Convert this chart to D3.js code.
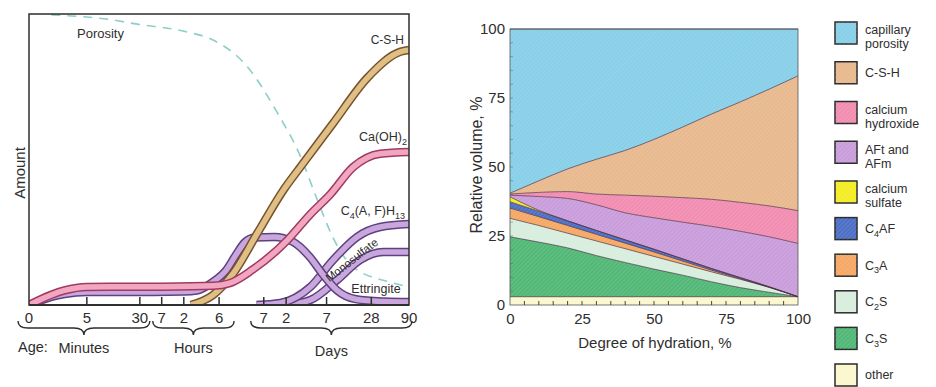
<!DOCTYPE html>
<html>
<head>
<meta charset="utf-8">
<script src="https://cdn.jsdelivr.net/npm/d3@7"></script>
<style>
body { margin: 0; background: #fff; }
svg { display: block; font-family: "Liberation Sans", Arial, sans-serif; }
</style>
</head>
<body>
<svg id="chart" width="936" height="387"></svg>
<script>
// ---------- left panel: amount of each product vs age (minutes) ----------
const ageTicks = [0, 5, 30, 60, 120, 360, 1440, 2880, 10080, 40320, 129600];
const ageTickLabels = ['0', '5', '30', '7', '2', '6', '7', '2', '7', '28', '90'];
const ageGroups = [
    {label: 'Minutes', from: 0, to: 30},
    {label: 'Hours', from: 60, to: 360},
    {label: 'Days', from: 1440, to: 129600}
];

// [age in minutes, amount]
const porosityCurve = [[1, 99.7], [12, 98], [26, 96.6], [135, 93.8], [303, 91], [870, 81.8], [2200, 66],
    [4500, 51], [7600, 36], [12400, 23], [23000, 13], [79000, 7.6], [129600, 6.2]];
const cshCurve = [[150, 0], [300, 3.5], [564, 11], [1200, 25], [2650, 39.5], [4475, 47.4], [12400, 62.5],
    [35500, 78], [98500, 87], [129600, 87.6]];
const chCurve = [[0, 0], [1, 3.5], [2, 5], [5, 6.2], [60, 6.3], [300, 6.6], [500, 7.5], [1000, 12],
    [3000, 22.3], [6000, 31], [11300, 38], [23000, 47.4], [53000, 52], [129600, 52.6]];
const ettringiteCurve = [[0, 0], [1, 2.8], [2, 3.8], [5, 4.5], [30, 4.5], [120, 4.6], [180, 5], [300, 8],
    [450, 12], [600, 17], [800, 21.5], [1100, 23.2], [2000, 23.4], [3500, 21.8], [6000, 16.5],
    [9000, 10.5], [14000, 5], [25000, 2], [60000, 1.2], [129600, 1]];
const afmUpperCurve = [[1150, 0], [2414, 0.7], [6100, 6.2], [12400, 15.5], [26000, 23.4], [53000, 26.8], [129600, 27.8]];
const afmLowerCurve = [[2815, 0], [6100, 1.7], [14000, 8.6], [28600, 15.5], [58200, 18.2], [129600, 18.2]];

// ---------- right panel: relative volume vs degree of hydration ----------
const hydration = [0, 10, 20, 30, 40, 50, 60, 70, 80, 90, 100];
const otherVol    = [3, 3, 3, 3, 3, 3, 3, 3, 3, 3, 3];
const c3sVol      = [21.7, 19.8, 17.7, 14.9, 12.4, 10, 7.8, 5.4, 3.3, 1.6, 0];
const c2sVol      = [6.7, 6.0, 5.3, 5.3, 5.0, 4.6, 4.0, 3.6, 3.0, 1.8, 0];
const c3aVol      = [3.7, 3.2, 2.8, 2.4, 2.0, 1.6, 1.1, 0.6, 0.2, 0, 0];
const c4afVol     = [2.3, 2.0, 1.7, 1.4, 1.2, 1.0, 0.8, 0.6, 0.4, 0.2, 0];
const sulfateVol  = [1.8, 0.3, 0, 0, 0, 0, 0, 0, 0, 0, 0];
const aftVol      = [0.6, 5.0, 8.1, 9.3, 9.8, 11.4, 13.3, 15.3, 16.8, 18.1, 19.3];
const chVol       = [0.4, 1.5, 2.5, 3.9, 6.4, 7.8, 8.9, 9.8, 10.5, 11.2, 11.9];
const cshVol      = [0.3, 4.2, 8.2, 12.6, 16.2, 20.6, 25.6, 30.9, 36.4, 42.3, 48.8];
const porosityVol = [59.5, 55, 50.7, 47.2, 44, 40, 35.5, 30.8, 26.4, 21.8, 17];

const layerKeys = ['other', 'C3S', 'C2S', 'C3A', 'C4AF', 'sulfate', 'AFt', 'CH', 'CSH', 'porosity'];
const layerLabels = ['other', 'C_3S', 'C_2S', 'C_3A', 'C_4AF', 'calcium\nsulfate', 'AFt and\nAFm',
    'calcium\nhydroxide', 'C-S-H', 'capillary\nporosity'];
const layerColors = ['#fbf7cf', '#52b877', '#d9eedf', '#f6a865', '#4d6fc6', '#f4ec25', '#c99ddb',
    '#f28db2', '#e8b98e', '#88cfe8'];
const volTicks = [0, 25, 50, 75, 100];

const svg = d3.select('#chart');
const ink = '#2e2e2e';

// sub-scripted text: "C_4AF" -> C, 4 (sub), AF
function richText(text, str, size) {
    const parts = str.split(/_(\d+)/);
    parts.forEach((p, i) => {
        if (p === '') return;
        const sub = i % 2 === 1;
        const t = text.append('tspan').text(p);
        if (sub) {
            t.attr('font-size', size * 0.72).attr('dy', size * 0.3);
        } else if (i > 0) {
            t.attr('dy', -size * 0.3);
        }
    });
}

const defs = svg.append('defs');
const hatch = defs.append('pattern')
    .attr('id', 'hatch')
    .attr('width', 3).attr('height', 3)
    .attr('patternUnits', 'userSpaceOnUse')
    .attr('patternTransform', 'rotate(45)');
hatch.append('line')
    .attr('x1', 0).attr('y1', 0).attr('x2', 0).attr('y2', 3)
    .attr('stroke', '#fff').attr('stroke-opacity', 0.22).attr('stroke-width', 1);

// =========== LEFT PANEL ===========
const L = {left: 29, right: 409, top: 14, bottom: 305};
const xAge = d3.scaleLog().domain([1, 129601]).range([L.left, L.right]);
const ax = t => xAge(t + 1);
const yAmt = d3.scaleLinear().domain([0, 100]).range([L.bottom, L.top]);

defs.append('clipPath').attr('id', 'leftClip')
    .append('rect')
    .attr('x', L.left).attr('y', L.top)
    .attr('width', L.right - L.left).attr('height', L.bottom - L.top);

const left = svg.append('g');
const curveLine = d3.line()
    .x(d => ax(d[0]))
    .y(d => yAmt(d[1]))
    .curve(d3.curveMonotoneX);

const plot = left.append('g').attr('clip-path', 'url(#leftClip)');

plot.append('path')
    .attr('d', curveLine(porosityCurve))
    .attr('fill', 'none')
    .attr('stroke', '#8ccfc8')
    .attr('stroke-width', 1.6)
    .attr('stroke-dasharray', '9,7');

const bands = [
    {data: afmLowerCurve, fill: '#c9a7dd', edge: '#5d4180'},
    {data: afmUpperCurve, fill: '#c9a7dd', edge: '#5d4180'},
    {data: ettringiteCurve, fill: '#c9a7dd', edge: '#5d4180'},
    {data: cshCurve, fill: '#e0bf84', edge: '#76532e'},
    {data: chCurve, fill: '#f2a6c0', edge: '#9e3b64'}
];
bands.forEach(b => {
    plot.append('path')
        .attr('d', curveLine(b.data))
        .attr('fill', 'none')
        .attr('stroke', b.edge)
        .attr('stroke-width', 8.5);
    plot.append('path')
        .attr('d', curveLine(b.data))
        .attr('fill', 'none')
        .attr('stroke', b.fill)
        .attr('stroke-width', 5.5);
});

// frame
left.append('rect')
    .attr('x', L.left).attr('y', L.top)
    .attr('width', L.right - L.left).attr('height', L.bottom - L.top)
    .attr('fill', 'none')
    .attr('stroke', ink)
    .attr('stroke-width', 1.5);
left.append('line')
    .attr('x1', L.left).attr('x2', L.right)
    .attr('y1', L.bottom).attr('y2', L.bottom)
    .attr('stroke', ink).attr('stroke-width', 2);

// ticks pointing inward
left.selectAll('.ageTick')
    .data(ageTicks.slice(1, -1))
    .join('line')
    .attr('x1', d => ax(d)).attr('x2', d => ax(d))
    .attr('y1', L.bottom).attr('y2', L.bottom - 8)
    .attr('stroke', ink).attr('stroke-width', 1.5);

left.selectAll('.ageLabel')
    .data(ageTicks)
    .join('text')
    .attr('x', d => ax(d))
    .attr('y', 318)
    .attr('dy', '0.35em')
    .attr('text-anchor', 'middle')
    .attr('font-size', 15)
    .attr('fill', ink)
    .text((d, i) => ageTickLabels[i]);

// curly braces under each age group
function bracePath(x0, x1, y0, h) {
    const xm = (x0 + x1) / 2, ym = y0 + h / 2, q = 10;
    return `M${x0},${y0} Q${x0},${ym} ${x0 + q},${ym} L${xm - q},${ym} Q${xm},${ym} ${xm},${y0 + h}` +
        ` Q${xm},${ym} ${xm + q},${ym} L${x1 - q},${ym} Q${x1},${ym} ${x1},${y0}`;
}
const bracePad = [[-11, 10], [-9, 15], [-13, 3]];
ageGroups.forEach((g, i) => {
    const x0 = ax(g.from) + bracePad[i][0];
    const x1 = ax(g.to) + bracePad[i][1];
    left.append('path')
        .attr('d', bracePath(x0, x1, 321, 14))
        .attr('fill', 'none')
        .attr('stroke', ink)
        .attr('stroke-width', 1.4);
    left.append('text')
        .attr('x', (x0 + x1) / 2)
        .attr('y', i === 2 ? 351 : 348)
        .attr('dy', '0.35em')
        .attr('text-anchor', 'middle')
        .attr('font-size', 14.5)
        .attr('fill', ink)
        .text(g.label);
});
left.append('text')
    .attr('x', 18).attr('y', 347).attr('dy', '0.35em')
    .attr('font-size', 14.5).attr('fill', ink)
    .text('Age:');

left.append('text')
    .attr('transform', `translate(20, 173) rotate(-90)`)
    .attr('dy', '0.35em')
    .attr('text-anchor', 'middle')
    .attr('font-size', 15)
    .attr('fill', ink)
    .text('Amount');

// series labels
const seriesLabels = [
    {text: 'Porosity', x: 77, y: 33, anchor: 'start', size: 13},
    {text: 'C-S-H', x: 404, y: 40, anchor: 'end', size: 12},
    {text: 'Ca(OH)_2', x: 407, y: 137, anchor: 'end', size: 12.5},
    {text: 'C_4(A, F)H_13', x: 405, y: 211, anchor: 'end', size: 12.5},
    {text: 'Ettringite', x: 376, y: 289, anchor: 'middle', size: 12.5}
];
seriesLabels.forEach(s => {
    const t = left.append('text')
        .attr('x', s.x).attr('y', s.y + s.size * 0.35)
        .attr('text-anchor', s.anchor)
        .attr('font-size', s.size)
        .attr('fill', ink);
    richText(t, s.text, s.size);
});
left.append('text')
    .attr('transform', `translate(${ax(22000)}, ${yAmt(15.5)}) rotate(-38)`)
    .attr('dy', '0.35em')
    .attr('text-anchor', 'middle')
    .attr('font-size', 11.5)
    .attr('fill', ink)
    .text('Monosulfate');

// =========== RIGHT PANEL ===========
const R = {left: 510, right: 798, top: 29, bottom: 305};
const xHyd = d3.scaleLinear().domain([0, 100]).range([R.left, R.right]);
const yVol = d3.scaleLinear().domain([0, 100]).range([R.bottom, R.top]);

const layerValues = [otherVol, c3sVol, c2sVol, c3aVol, c4afVol, sulfateVol, aftVol, chVol, cshVol, porosityVol];
const table = hydration.map((h, i) => {
    const row = {h: h};
    layerKeys.forEach((k, j) => row[k] = layerValues[j][i]);
    return row;
});
const stacked = d3.stack().keys(layerKeys)(table);
const color = d3.scaleOrdinal().domain(layerKeys).range(layerColors);

const area = d3.area()
    .x(d => xHyd(d.data.h))
    .y0(d => yVol(d[0]))
    .y1(d => yVol(d[1]))
    .curve(d3.curveMonotoneX);
const topLine = d3.line()
    .x(d => xHyd(d.data.h))
    .y(d => yVol(d[1]))
    .curve(d3.curveMonotoneX);

const right = svg.append('g');
right.selectAll('.layer')
    .data(stacked)
    .join('path')
    .attr('d', area)
    .attr('fill', d => color(d.key));
right.selectAll('.hatch')
    .data(stacked.filter(d => d.key !== 'other' && d.key !== 'C2S'))
    .join('path')
    .attr('d', area)
    .attr('fill', 'url(#hatch)');
right.selectAll('.edge')
    .data(stacked)
    .join('path')
    .attr('d', topLine)
    .attr('fill', 'none')
    .attr('stroke', '#4a2d40')
    .attr('stroke-width', 0.8)
    .attr('stroke-opacity', 0.85);

// outline of the plot area
right.append('rect')
    .attr('x', R.left).attr('y', R.top)
    .attr('width', R.right - R.left).attr('height', R.bottom - R.top)
    .attr('fill', 'none')
    .attr('stroke', '#555')
    .attr('stroke-width', 0.8);

// small ticks in the "other" strip and along the left edge
right.selectAll('.xminor')
    .data(d3.range(5, 100, 5))
    .join('line')
    .attr('x1', d => xHyd(d)).attr('x2', d => xHyd(d))
    .attr('y1', R.bottom).attr('y2', R.bottom - 4)
    .attr('stroke', '#333').attr('stroke-width', 0.9);
right.selectAll('.yminor')
    .data(d3.range(5, 100, 5))
    .join('line')
    .attr('x1', R.left).attr('x2', R.left + 3)
    .attr('y1', d => yVol(d)).attr('y2', d => yVol(d))
    .attr('stroke', '#555').attr('stroke-width', 0.7).attr('stroke-opacity', 0.6);

const xAxis = d3.axisBottom(xHyd).tickValues(volTicks).tickSize(0).tickPadding(8);
const yAxis = d3.axisLeft(yVol).tickValues(volTicks).tickSize(0).tickPadding(5);
const xg = right.append('g').attr('transform', `translate(0, ${R.bottom})`).call(xAxis);
const yg = right.append('g').attr('transform', `translate(${R.left}, 0)`).call(yAxis);
[xg, yg].forEach(g => {
    g.select('.domain').remove();
    g.selectAll('text')
        .attr('font-size', 15)
        .attr('font-family', '"Liberation Sans", Arial, sans-serif')
        .attr('fill', ink);
});

right.append('text')
    .attr('transform', `translate(476, 165) rotate(-90)`)
    .attr('dy', '0.35em')
    .attr('text-anchor', 'middle')
    .attr('font-size', 16)
    .attr('fill', ink)
    .text('Relative volume, %');
right.append('text')
    .attr('x', 655).attr('y', 343).attr('dy', '0.35em')
    .attr('text-anchor', 'middle')
    .attr('font-size', 15)
    .attr('fill', ink)
    .text('Degree of hydration, %');

// legend, top to bottom: reverse stacking order
const legendKeys = layerKeys.slice().reverse();
const legendLabels = layerLabels.slice().reverse();
const legendY = d3.scaleLinear().domain([0, 4, 9]).range([33, 192, 375]);
const legend = svg.append('g');
const lsize = 12.5, lgap = 14;
legendKeys.forEach((k, i) => {
    const cy = legendY(i);
    legend.append('rect')
        .attr('x', 835).attr('y', cy - 11)
        .attr('width', 22).attr('height', 22)
        .attr('fill', color(k))
        .attr('stroke', '#2a2a2a').attr('stroke-width', 1.5);
    if (k !== 'other' && k !== 'C2S') {
        legend.append('rect')
            .attr('x', 835).attr('y', cy - 11)
            .attr('width', 22).attr('height', 22)
            .attr('fill', 'url(#hatch)');
    }
    const lines = legendLabels[i].split('\n');
    lines.forEach((ln, j) => {
        const y = lines.length === 1 ? cy : cy - 3 + j * lgap;
        const t = legend.append('text')
            .attr('x', 865).attr('y', y + lsize * 0.35)
            .attr('font-size', lsize)
            .attr('fill', ink);
        richText(t, ln, lsize);
    });
});
</script>
</body>
</html>
